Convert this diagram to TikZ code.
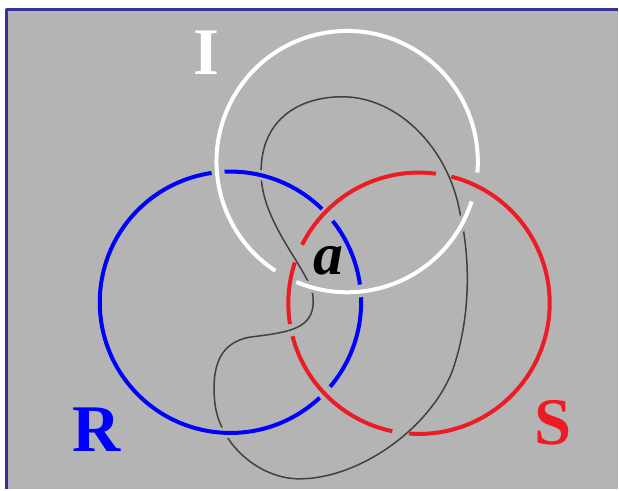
\documentclass[tikz,border=0pt]{standalone}
\usepackage{fontspec}
\setmainfont{Liberation Serif}
\definecolor{panel}{RGB}{180,180,180}
\definecolor{frame}{RGB}{51,51,153}
\definecolor{ringred}{RGB}{237,28,36}
\definecolor{ringblue}{RGB}{0,0,255}
\definecolor{curvegray}{RGB}{64,64,64}
\begin{document}
\begin{tikzpicture}[x=0.02cm,y=-0.02cm,line cap=butt,line join=round,
  ring/.style={line width=0.08cm},
  halo/.style={preaction={draw=panel,line width=0.2cm}},
  capital/.style={anchor=base,inner sep=0pt,font=\fontsize{38}{38}\selectfont\bfseries}]
  \def\r{131}

  % Panel and frame
  \fill[white] (0,0) rectangle (619,490);
  \fill[panel] (7,10) rectangle (619,490);
  \draw[frame,line width=0.06cm] (7,490) -- (7,10) -- (619,10);
  \useasboundingbox (0,0) rectangle (619,490);

  % Centres of the rings
  \coordinate (I) at (348,162);
  \coordinate (R) at (231,303);
  \coordinate (S) at (420,304);

  % Thin closed curve
  \draw[curvegray,line width=0.03cm]
    (300,480) .. controls (260,480) and (218,445) .. (215,400)
    .. controls (212,360) and (225,343) .. (250,338)
    .. controls (290,333) and (315,330) .. (314,300)
    .. controls (314,275) and (266,230) .. (262,180)
    .. controls (258,120) and (300,97) .. (343,97)
    .. controls (400,97) and (450,150) .. (461,213)
    .. controls (472,260) and (472,320) .. (453,373)
    .. controls (430,430) and (360,480) .. cycle;

  % Ring R (blue)
  \foreach \s/\e in {46.9/261.7, 267.4/314.5, 321.5/352.2, 357.8/400.3}
    \draw[ring,halo,ringblue] (R) ++(\s:\r) arc[start angle=\s,end angle=\e,radius=\r];

  % Ring I (white)
  \foreach \s/\e in {17.7/112.9, 123.3/364.8}
    \draw[ring,halo,white] (I) ++(\s:\r) arc[start angle=\s,end angle=\e,radius=\r];

  % Ring S (red)
  \foreach \s/\e in {101.8/165.4, 170.8/198.2, 206.6/277.4, 284.3/454.4}
    \draw[ring,ringred] (S) ++(\s:\r) arc[start angle=\s,end angle=\e,radius=\r];

  % Labels
  \node[capital,white] (lblI) at (207,75) {I};
  \node[capital,ringblue] (lblR) at (97,453) {R};
  \node[capital,ringred] (lblS) at (554,446) {S};
  \node[anchor=base,inner sep=0pt,font=\fontsize{34}{34}\selectfont\bfseries\itshape] (lbla) at (329,275) {a};
\end{tikzpicture}
\end{document}
